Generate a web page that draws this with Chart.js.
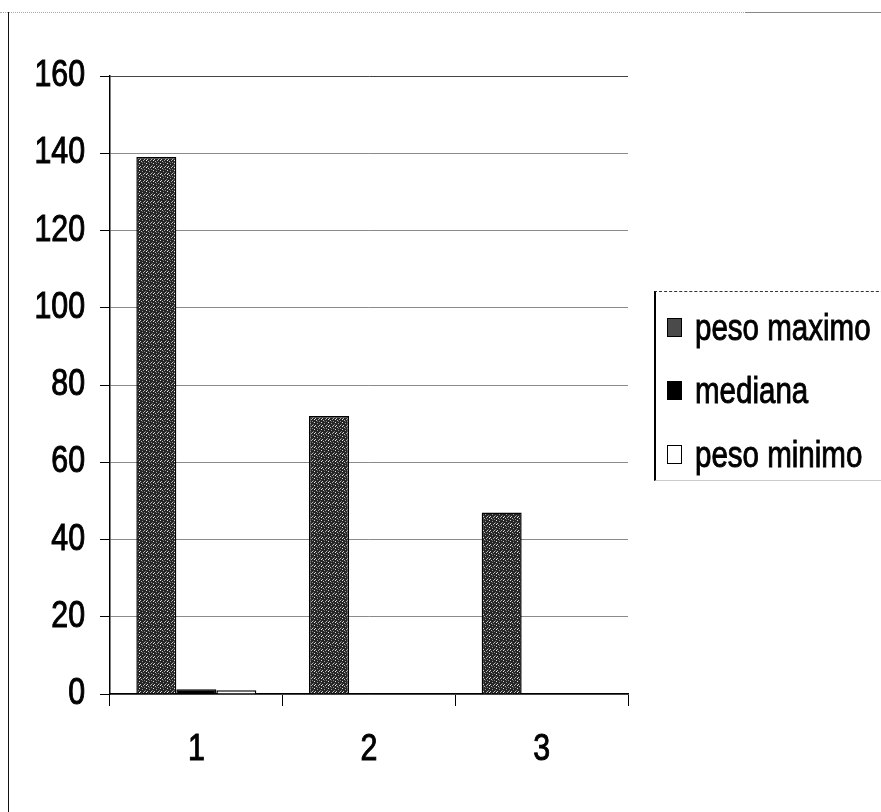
<!DOCTYPE html>
<html>
<head>
<meta charset="utf-8">
<script src="https://cdn.jsdelivr.net/npm/chart.js@4.4.1/dist/chart.umd.min.js"></script>
<style>
  html, body { margin: 0; padding: 0; background: #fff; }
  #wrap { position: relative; width: 881px; height: 812px; overflow: hidden; }
  #frameLeft { position: absolute; left: 8px; top: 12px; width: 0; height: 800px; border-left: 1px solid #111; }
  #frameTop { position: absolute; left: 0; top: 12px; width: 760px; height: 0; border-top: 1px dotted #aaa; }
  #frameTopR { position: absolute; left: 745px; top: 12px; width: 136px; height: 0; border-top: 1px solid #888; }
  canvas { position: absolute; left: 0; top: 0; }
  #legend { position: absolute; left: 654px; top: 291px; width: 240px; height: 190px;
            border-left: 2px solid #000; border-top: 1px dashed #333; border-bottom: 1px solid #ccc;
            font-family: 'Liberation Sans', Arial, sans-serif;
            font-size: 36px; color: #000; box-sizing: border-box; }
  .item { position: absolute; left: 11px; height: 40px; line-height: 40px; white-space: nowrap; }
  .sw { display: inline-block; width: 15px; height: 19px; box-sizing: border-box; border: 1.5px solid #000;
        vertical-align: middle; margin-right: 13px; position: relative; top: -1px; }
  .txt { display: inline-block; transform: scaleX(0.82); transform-origin: 0 50%; vertical-align: middle;
         -webkit-text-stroke: 0.9px #000; }
</style>
</head>
<body>
<div id="wrap">
  <div id="frameLeft"></div>
  <div id="frameTop"></div>
  <div id="frameTopR"></div>
  <canvas id="c" width="881" height="812"></canvas>
  <div id="legend"></div>
</div>
<script>
// Categories and series
const categories = ['1', '2', '3'];
const seriesNames = ['peso maximo', 'mediana', 'peso minimo'];
const pesoMaximo = [139, 72, 47];
const mediana = [1.2, 0, 0];
const pesoMinimo = [1, 0, 0];
const yTicks = [0, 20, 40, 60, 80, 100, 120, 140, 160];

const FONT = "'Liberation Sans', Arial, sans-serif";
const NARROW = 0.82;   // horizontal squeeze that gives a narrow face

// Speckled grey fill used for "peso maximo"
function speckle() {
  const p = document.createElement('canvas');
  p.width = 7; p.height = 7;
  const g = p.getContext('2d');
  g.fillStyle = '#262626';
  g.fillRect(0, 0, 7, 7);
  const dots = [[1,0],[4,1],[6,2],[2,3],[0,5],[5,4],[3,6],[6,6],[2,1],[4,5]];
  const shades = ['#bbb','#888','#ddd','#999','#ccc','#777','#aaa','#eee','#666','#bbb'];
  dots.forEach((d, i) => { g.fillStyle = shades[i]; g.fillRect(d[0], d[1], 1, 1); });
  return g.createPattern(p, 'repeat');
}
const ctx = document.getElementById('c').getContext('2d');
const fills = [speckle(), '#000000', '#ffffff'];
const swatchCss = ['#4a4a4a', '#000', '#fff'];

// Tick labels in a condensed face, placed with the scales' own pixel mapping
const narrowLabels = {
  id: 'narrowLabels',
  afterDraw(chart) {
    const c = chart.ctx;
    const xs = chart.scales.x, ys = chart.scales.y;
    c.save();
    c.fillStyle = '#000';
    c.strokeStyle = '#000';
    c.lineWidth = 1;
    c.font = '37px ' + FONT;
    c.textBaseline = 'middle';
    const put = (txt, x, y) => {
      c.save();
      c.translate(x, y);
      c.scale(NARROW, 1);
      c.fillText(txt, 0, 0);
      c.strokeText(txt, 0, 0);
      c.restore();
    };
    c.textAlign = 'right';
    ys.ticks.forEach(t => put(String(t.value), ys.right - 25, ys.getPixelForValue(t.value)));
    c.textAlign = 'center';
    categories.forEach((lab, i) => put(lab, xs.getPixelForValue(i), xs.top + 56));
    c.restore();
  }
};

new Chart(ctx, {
  type: 'bar',
  data: {
    labels: categories,
    datasets: [
      { label: seriesNames[0], data: pesoMaximo, backgroundColor: fills[0], borderColor: '#000', borderWidth: 1.5 },
      { label: seriesNames[1], data: mediana, backgroundColor: fills[1], borderColor: '#000', borderWidth: 1.5 },
      { label: seriesNames[2], data: pesoMinimo, backgroundColor: fills[2], borderColor: '#000', borderWidth: 1.5 }
    ]
  },
  plugins: [narrowLabels],
  options: {
    responsive: false,
    animation: false,
    layout: { padding: { left: 0, right: 253, top: 76, bottom: 0 } },
    plugins: { legend: { display: false }, tooltip: { enabled: false } },
    datasets: { bar: { categoryPercentage: 0.695, barPercentage: 1.0 } },
    scales: {
      x: {
        grid: {
          offset: true,
          color: c => c.index === categories.length ? '#9a9a9a' : 'rgba(0,0,0,0)',
          tickColor: '#000',
          tickLength: 12,
          borderDash: [2, 3]
        },
        border: { color: '#000', width: 1.5 },
        ticks: { display: false },
        afterFit: s => { s.height = 118; }
      },
      y: {
        min: 0, max: 160,
        afterBuildTicks: s => { s.ticks = yTicks.map(v => ({ value: v })); },
        grid: {
          color: c => c.tick && c.tick.value === 160 ? '#444' : '#8a8a8a',
          tickColor: '#000',
          tickLength: 10,
          lineWidth: 1
        },
        border: { color: '#000', width: 1.5 },
        ticks: { display: false },
        afterFit: s => { s.width = 110; }
      }
    }
  }
});

// Legend built from the series names
const legend = document.getElementById('legend');
const rowTops = [14, 77, 141];
seriesNames.forEach((name, i) => {
  const row = document.createElement('div');
  row.className = 'item';
  row.style.top = rowTops[i] + 'px';
  const sw = document.createElement('span');
  sw.className = 'sw';
  sw.style.background = swatchCss[i];
  const tx = document.createElement('span');
  tx.className = 'txt';
  tx.textContent = name;
  row.appendChild(sw);
  row.appendChild(tx);
  legend.appendChild(row);
});
</script>
</body>
</html>
